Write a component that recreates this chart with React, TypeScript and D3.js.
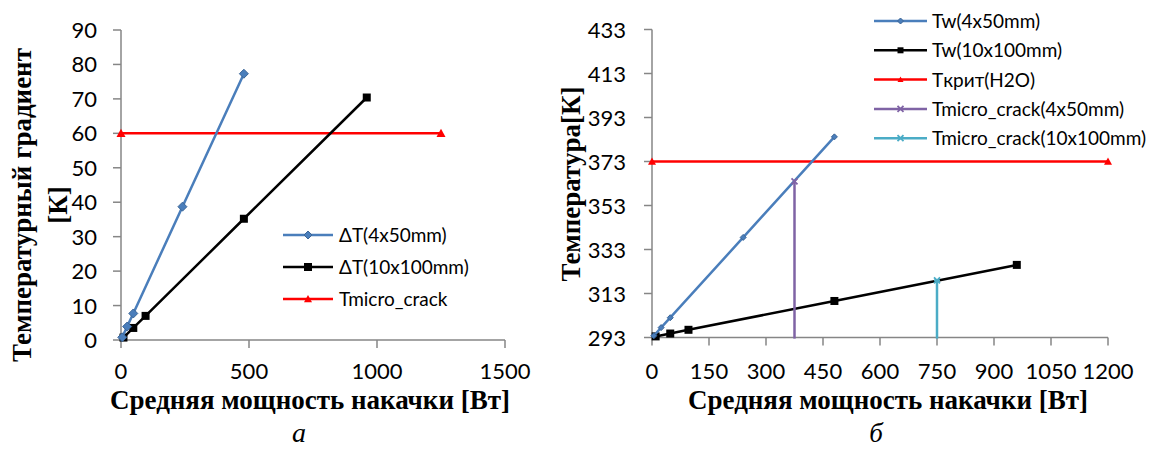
import React from "react";
import * as d3 from "d3";

// ---------- Data: chart a ----------
const powerA1 = [4.8, 24, 48, 240, 480];
const deltaT1 = [0.77, 3.9, 7.7, 38.7, 77.3];
const powerA2 = [9.6, 48, 96, 480, 960];
const deltaT2 = [0.7, 3.5, 7.0, 35.2, 70.4];
const crackA = [[0, 60], [1250, 60]];
const xTicksA = [0, 500, 1000, 1500];
const yTicksA = [0, 10, 20, 30, 40, 50, 60, 70, 80, 90];
const legendA = ["ΔT(4x50mm)", "ΔT(10x100mm)", "Tmicro_crack"];

// ---------- Data: chart b ----------
const powerB1 = [4.8, 24, 48, 240, 480];
const tw1 = [293.8, 297.5, 302.0, 338.5, 384.2];
const powerB2 = [9.6, 48, 96, 480, 960];
const tw2 = [293.5, 294.8, 296.5, 309.6, 326.0];
const tcrit = [[0, 373], [1200, 373]];
const crack4x50 = [[375, 364], [375, 292.5]];
const crack10x100 = [[750, 319], [750, 292.5]];
const xTicksB = [0, 150, 300, 450, 600, 750, 900, 1050, 1200];
const yTicksB = [293, 313, 333, 353, 373, 393, 413, 433];
const legendB = ["Tw(4x50mm)", "Tw(10x100mm)", "Tкрит(H2O)", "Tmicro_crack(4x50mm)", "Tmicro_crack(10x100mm)"];

const BLUE = "#4a7ebb";
const BLACK = "#000000";
const RED = "#ff0000";
const PURPLE = "#7f63a5";
const CYAN = "#4bacc6";
const AXIS = "#868686";
const TICKFONT = "Lato, 'Open Sans', sans-serif";
const SERIF = "'Liberation Serif', 'DejaVu Serif', serif";

type MarkerKind = "diamond" | "square" | "triangle" | "x" | "star";

function Marker({ kind, x, y, size, color }: { kind: MarkerKind; x: number; y: number; size: number; color: string }) {
  const h = size / 2;
  if (kind === "diamond") {
    return <path d={`M${x},${y - h}L${x + h},${y}L${x},${y + h}L${x - h},${y}Z`} fill={color} stroke={d3.color(color)!.darker(0.6).toString()} strokeWidth={1} />;
  }
  if (kind === "square") {
    return <rect x={x - h} y={y - h} width={size} height={size} fill={color} />;
  }
  if (kind === "triangle") {
    return <path d={`M${x},${y - h}L${x + h},${y + h * 0.8}L${x - h},${y + h * 0.8}Z`} fill={color} />;
  }
  if (kind === "x") {
    return <path d={`M${x - h},${y - h}L${x + h},${y + h}M${x + h},${y - h}L${x - h},${y + h}`} stroke={color} strokeWidth={1.8} />;
  }
  return <path d={`M${x - h},${y - h}L${x + h},${y + h}M${x + h},${y - h}L${x - h},${y + h}M${x - h},${y}L${x + h},${y}`} stroke={color} strokeWidth={1.8} />;
}

function Series({ xs, ys, x, y, color, kind, size, width = 2.5, markerCount }: any) {
  const pts: [number, number][] = xs.map((v: number, i: number) => [x(v), y(ys[i])]);
  const line = d3.line()(pts) || "";
  const shown = markerCount == null ? pts : pts.slice(0, markerCount);
  return (
    <g>
      <path d={line} fill="none" stroke={color} strokeWidth={width} />
      {shown.map((p, i) => (
        <Marker key={i} kind={kind} x={p[0]} y={p[1]} size={size} color={color} />
      ))}
    </g>
  );
}

function AxisLeft({ scale, ticks, x, labelX }: any) {
  const [r0, r1] = scale.range();
  return (
    <g>
      <line x1={x} x2={x} y1={r0} y2={r1} stroke={AXIS} strokeWidth={1.5} />
      {ticks.map((t: number) => (
        <g key={t}>
          <line x1={x - 8} x2={x} y1={scale(t)} y2={scale(t)} stroke={AXIS} strokeWidth={1.5} />
          <text x={labelX} y={scale(t) + 8} textAnchor="end" fontFamily={TICKFONT} fontSize={22} fill="#000">{t}</text>
        </g>
      ))}
    </g>
  );
}

function AxisBottom({ scale, ticks, y, labelY }: any) {
  const [r0, r1] = scale.range();
  return (
    <g>
      <line x1={r0} x2={r1} y1={y} y2={y} stroke={AXIS} strokeWidth={1.5} />
      {ticks.map((t: number) => (
        <g key={t}>
          <line x1={scale(t)} x2={scale(t)} y1={y} y2={y + 8} stroke={AXIS} strokeWidth={1.5} />
          <text x={scale(t)} y={labelY} textAnchor="middle" fontFamily={TICKFONT} fontSize={22} fill="#000">{t}</text>
        </g>
      ))}
    </g>
  );
}

function LegendItem({ x1, x2, tx, y, color, kind, size, label }: any) {
  return (
    <g>
      <line x1={x1} x2={x2} y1={y} y2={y} stroke={color} strokeWidth={2.5} />
      <Marker kind={kind} x={(x1 + x2) / 2} y={y} size={size} color={color} />
      <text x={tx} y={y + 7} fontFamily={TICKFONT} fontSize={19} fill="#000">{label}</text>
    </g>
  );
}

export default function App() {
  // chart a scales
  const xA = d3.scaleLinear().domain([0, 1500]).range([121, 505]);
  const yA = d3.scaleLinear().domain([0, 90]).range([340, 30]);
  // chart b scales
  const xB = d3.scaleLinear().domain([0, 1200]).range([652, 1108]);
  const yB = d3.scaleLinear().domain([293, 433]).range([337.5, 29.5]);

  const legAKinds: MarkerKind[] = ["diamond", "square", "triangle"];
  const legAColors = [BLUE, BLACK, RED];
  const legBKinds: MarkerKind[] = ["diamond", "square", "triangle", "x", "star"];
  const legBColors = [BLUE, BLACK, RED, PURPLE, CYAN];

  return (
    <svg width={1159} height={450} style={{ position: "absolute", left: 0, top: 0, background: "#fff" }}>
      <rect width={1159} height={450} fill="#fff" />
      {/* ---------- Chart a ---------- */}
      <AxisLeft scale={yA} ticks={yTicksA} x={121} labelX={97} />
      <AxisBottom scale={xA} ticks={xTicksA} y={340} labelY={379} />
      <Series xs={crackA.map((d) => d[0])} ys={crackA.map((d) => d[1])} x={xA} y={yA} color={RED} kind="triangle" size={9} />
      <Series xs={powerA2} ys={deltaT2} x={xA} y={yA} color={BLACK} kind="square" size={8} />
      <Series xs={powerA1} ys={deltaT1} x={xA} y={yA} color={BLUE} kind="diamond" size={9} />
      {legendA.map((l, i) => (
        <LegendItem key={l} x1={283} x2={333} tx={339} y={235 + i * 32} color={legAColors[i]} kind={legAKinds[i]} size={8} label={l} />
      ))}
      <text transform="translate(31,205) rotate(-90)" textAnchor="middle" fontFamily={SERIF} fontWeight="bold" fontSize={27}>Температурный градиент</text>
      <text transform="translate(67,205) rotate(-90)" textAnchor="middle" fontFamily={SERIF} fontWeight="bold" fontSize={27}>[К]</text>
      <text x={310} y={409} textAnchor="middle" fontFamily={SERIF} fontWeight="bold" fontSize={27}>Средняя мощность накачки [Вт]</text>
      <text x={299} y={442} textAnchor="middle" fontFamily={SERIF} fontStyle="italic" fontSize={28}>а</text>

      {/* ---------- Chart b ---------- */}
      <AxisLeft scale={yB} ticks={yTicksB} x={652} labelX={626} />
      <AxisBottom scale={xB} ticks={xTicksB} y={337.5} labelY={379} />
      <Series xs={tcrit.map((d) => d[0])} ys={tcrit.map((d) => d[1])} x={xB} y={yB} color={RED} kind="triangle" size={8} />
      <Series xs={powerB2} ys={tw2} x={xB} y={yB} color={BLACK} kind="square" size={8} />
      <Series xs={powerB1} ys={tw1} x={xB} y={yB} color={BLUE} kind="diamond" size={6} />
      <Series xs={crack4x50.map((d) => d[0])} ys={crack4x50.map((d) => d[1])} x={xB} y={yB} color={PURPLE} kind="x" size={6} markerCount={1} />
      <Series xs={crack10x100.map((d) => d[0])} ys={crack10x100.map((d) => d[1])} x={xB} y={yB} color={CYAN} kind="star" size={6} markerCount={1} />
      {legendB.map((l, i) => (
        <LegendItem key={l} x1={874} x2={927} tx={932} y={21 + i * 29.3} color={legBColors[i]} kind={legBKinds[i]} size={6} label={l} />
      ))}
      <text transform="translate(580,184) rotate(-90)" textAnchor="middle" fontFamily={SERIF} fontWeight="bold" fontSize={27}>Температура[К]</text>
      <text x={888} y={409} textAnchor="middle" fontFamily={SERIF} fontWeight="bold" fontSize={27}>Средняя мощность накачки [Вт]</text>
      <text x={876} y={442} textAnchor="middle" fontFamily={SERIF} fontStyle="italic" fontSize={27}>б</text>
    </svg>
  );
}
